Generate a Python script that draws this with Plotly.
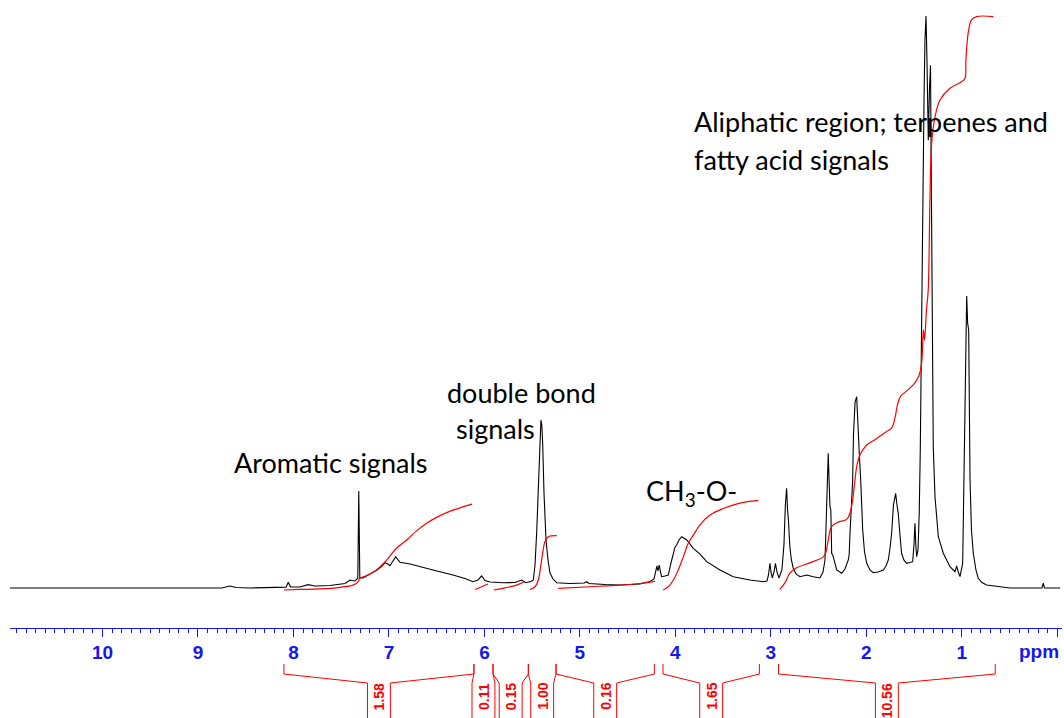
import plotly.graph_objects as go

# 1H NMR spectrum: chemical shift (ppm) and relative intensity (tallest line = 100)
shift_ppm = [
    10.97, 8.98, 8.75, 8.665, 8.60, 8.455, 8.14, 8.078, 8.054, 8.031, 7.932, 7.848,
    7.774, 7.618, 7.46, 7.408, 7.356, 7.326, 7.316, 7.305, 7.272, 7.198, 7.125, 7.073,
    7.041, 7.010, 6.989, 6.958, 6.929, 6.905, 6.884, 6.779, 6.675, 6.518, 6.329, 6.204,
    6.120, 6.067, 6.029, 5.994, 5.942, 5.805, 5.680, 5.610, 5.565, 5.513, 5.488, 5.470,
    5.453, 5.436, 5.418, 5.408, 5.399, 5.390, 5.376, 5.355, 5.334, 5.313, 5.282, 5.243,
    5.104, 4.957, 4.929, 4.905, 4.737, 4.580, 4.371, 4.266, 4.224, 4.203, 4.193, 4.182,
    4.169, 4.156, 4.144, 4.109, 4.074, 4.046, 4.022, 4.004, 3.986, 3.962, 3.934, 3.910,
    3.881, 3.812, 3.742, 3.672, 3.533, 3.394, 3.219, 3.080, 3.041, 3.025, 3.009, 2.999,
    2.985, 2.967, 2.952, 2.936, 2.915, 2.884, 2.863, 2.848, 2.835, 2.825, 2.816, 2.801,
    2.785, 2.766, 2.737, 2.695, 2.625, 2.556, 2.486, 2.454, 2.433, 2.423, 2.416, 2.407,
    2.399, 2.391, 2.381, 2.372, 2.363, 2.349, 2.339, 2.310, 2.258, 2.224, 2.189, 2.180,
    2.171, 2.156, 2.143, 2.135, 2.126, 2.118, 2.101, 2.093, 2.085, 2.074, 2.059, 2.038,
    2.019, 1.996, 1.962, 1.927, 1.878, 1.822, 1.794, 1.770, 1.752, 1.735, 1.716, 1.693,
    1.679, 1.666, 1.648, 1.631, 1.607, 1.578, 1.543, 1.515, 1.501, 1.491, 1.482, 1.473,
    1.459, 1.446, 1.435, 1.428, 1.417, 1.407, 1.396, 1.386, 1.375, 1.365, 1.351, 1.339,
    1.328, 1.318, 1.309, 1.299, 1.281, 1.246, 1.194, 1.124, 1.072, 1.054, 1.037, 1.019,
    0.991, 0.978, 0.964, 0.949, 0.939, 0.928, 0.914, 0.899, 0.880, 0.852, 0.828, 0.789,
    0.740, 0.601, 0.496, 0.161, 0.147, 0.134, -0.03,
]
intensity = [
    0, 0, 0, 0.35, 0.1, 0, 0.1, 0.15, 1.0, 0.2, 0.17, 0.58,
    0.35, 0.44, 0.79, 1.4, 1.22, 1.75, 16.96, 1.75, 1.75, 2.45, 3.15, 3.85,
    4.42, 4.2, 3.9, 4.72, 5.47, 4.9, 4.49, 4.2, 3.72, 3.06, 2.27, 1.66,
    1.10, 1.4, 2.1, 1.31, 1.05, 0.93, 0.96, 1.4, 0.93, 1.14, 1.4, 4.02,
    9.6, 18.36, 25.87, 29.37, 28.5, 25.35, 16.6, 8.39, 4.9, 2.62, 1.57, 0.93,
    0.79, 0.87, 1.1, 0.79, 0.61, 0.52, 0.7, 1.14, 1.57, 2.8, 3.85, 2.97,
    4.02, 2.8, 1.98, 2.1, 2.27, 4.37, 6.07, 7.17, 7.52, 8.39, 8.97, 8.74,
    8.39, 6.94, 5.94, 4.6, 3.15, 1.98, 1.4, 1.1, 1.22, 2.27, 4.32, 2.8,
    1.75, 2.8, 4.32, 2.8, 1.75, 3.15, 7.52, 14.51, 17.43, 13.64, 11.89, 7.22,
    4.9, 3.5, 2.45, 1.98, 2.27, 1.98, 1.75, 2.8, 4.9, 10.14, 15.39, 20.63,
    23.55, 19.23, 14.21, 13.64, 6.07, 5.6, 4.9, 3.15, 2.57, 3.32, 4.9, 5.77,
    9.56, 14.51, 18.88, 26.75, 29.37, 32.5, 33.45, 31.12, 27.62, 23.55, 18.88, 10.14,
    6.29, 4.32, 3.15, 2.67, 2.8, 3.15, 3.85, 4.9, 7.0, 9.56, 14.51, 16.55,
    14.51, 13.06, 9.27, 6.07, 4.9, 4.32, 4.46, 4.6, 7.52, 11.31, 7.52, 5.47,
    6.64, 13.06, 24.13, 36.37, 50.35, 67.83, 85.31, 95.8, 100.0, 92.3, 78.3, 87.1,
    91.4, 67.8, 42.2, 24.7, 15.96, 8.97, 6.07, 3.72, 2.85, 3.85, 2.8, 1.98,
    4.32, 18.88, 42.2, 51.05, 46.3, 45.1, 18.88, 10.14, 6.07, 3.15, 1.70, 0.96,
    0.52, 0.17, 0, 0, 0.87, 0, 0,
]

# Integrated regions (ppm limits) and their integral values
integral_from = [8.10, 6.11, 5.91, 5.54, 5.25, 4.13, 2.92]
integral_to = [6.11, 5.91, 5.54, 5.25, 4.22, 3.12, 0.65]
integral_value = [1.58, 0.11, 0.15, 1.00, 0.16, 1.65, 10.56]

# Running integral curves for each region
int1_ppm = [8.099, 7.932, 7.722, 7.513, 7.377, 7.324, 7.303, 7.251, 7.146, 7.024,
            6.926, 6.814, 6.717, 6.605, 6.465, 6.329, 6.225, 6.130]
int1_val = [0, 0.01, 0.02, 0.05, 0.09, 0.15, 0.22, 0.25, 0.35, 0.55,
            0.76, 0.92, 1.08, 1.23, 1.37, 1.47, 1.53, 1.58]
int2_ppm = [6.099, 6.029, 5.963]
int2_val = [0.01, 0.06, 0.11]
int3_ppm = [5.900, 5.785, 5.680, 5.610, 5.586]
int3_val = [0, 0.04, 0.08, 0.13, 0.15]
int4_ppm = [5.523, 5.470, 5.436, 5.411, 5.390, 5.366, 5.331, 5.243]
int4_val = [0.01, 0.06, 0.18, 0.43, 0.68, 0.89, 0.98, 1.00]
int5_ppm = [5.226, 4.894, 4.580, 4.371, 4.214]
int5_val = [0.03, 0.06, 0.09, 0.12, 0.16]
int6_ppm = [4.127, 4.074, 4.022, 3.970, 3.917, 3.865, 3.812, 3.742, 3.638, 3.498,
            3.323, 3.132]
int6_val = [0, 0.06, 0.18, 0.37, 0.61, 0.86, 1.01, 1.20, 1.38, 1.50, 1.60, 1.65]
int7_ppm = [2.906, 2.853, 2.801, 2.730, 2.590, 2.451, 2.423, 2.399, 2.363, 2.297,
            2.206, 2.171, 2.143, 2.119, 2.098, 2.066, 1.996, 1.899, 1.787, 1.735,
            1.700, 1.674, 1.640, 1.567, 1.493, 1.451, 1.421, 1.402, 1.391, 1.370,
            1.352, 1.334, 1.316, 1.281, 1.229, 1.124, 1.002, 0.967, 0.957, 0.933,
            0.898, 0.846, 0.670]
int7_val = [0.01, 0.13, 0.31, 0.41, 0.50, 0.61, 0.70, 0.92, 1.17, 1.25,
            1.30, 1.42, 1.66, 2.03, 2.30, 2.49, 2.67, 2.78, 2.92, 2.98,
            3.17, 3.41, 3.57, 3.68, 3.81, 3.94, 4.18, 4.79, 4.60, 5.16,
            5.52, 7.18, 8.23, 8.71, 9.02, 9.24, 9.36, 9.42, 9.76, 10.26,
            10.50, 10.56, 10.56]

integral_curves = [
    (int1_ppm, int1_val), (int2_ppm, int2_val), (int3_ppm, int3_val),
    (int4_ppm, int4_val), (int5_ppm, int5_val), (int6_ppm, int6_val),
    (int7_ppm, int7_val),
]

# Axis labels
tick_ppm = [10, 9, 8, 7, 6, 5, 4, 3, 2, 1, 0]

RED = "#ff0000"
BLUE = "#1616ee"
W, H = 1064, 718

fig = go.Figure()

fig.add_trace(go.Scatter(
    x=shift_ppm, y=intensity, mode="lines",
    line=dict(color="black", width=1.1), hoverinfo="skip", showlegend=False,
    xaxis="x", yaxis="y",
))

for px, pv in integral_curves:
    fig.add_trace(go.Scatter(
        x=px, y=pv, mode="lines", line=dict(color=RED, width=1.2, shape="spline"),
        hoverinfo="skip", showlegend=False, xaxis="x", yaxis="y2",
    ))


def py(pixel_y):
    """Convert a vertical pixel offset from the top into paper units."""
    return (H - pixel_y) / H


# Integral brackets under the axis
gap = 0.12
shapes = []
annotations = []
for a, b, v in zip(integral_from, integral_to, integral_value):
    mid = (a + b) / 2
    segs = [
        ([a, a, mid + gap, mid + gap], [664, 674, 683, 718]),
        ([b, b, mid - gap, mid - gap], [664, 674, 683, 718]),
    ]
    for xs, ys in segs:
        path = "M {} {}".format(xs[0], py(ys[0]))
        for xx, yy in zip(xs[1:], ys[1:]):
            path += " L {} {}".format(xx, py(yy))
        shapes.append(dict(type="path", path=path, xref="x", yref="paper",
                           line=dict(color=RED, width=1)))
    annotations.append(dict(
        x=mid, y=py(681), xref="x", yref="paper", text="<b>{:.2f}</b>".format(v),
        textangle=-90, showarrow=False, xanchor="center", yanchor="top",
        font=dict(family="Liberation Sans", size=14, color=RED),
    ))

# Region labels
label_font = dict(family="Lato", size=27, color="black")
region_labels = [
    ("Aromatic signals", 232, 462),
    ("double bond", 445, 393),
    ("signals", 454, 428),
    ("CH<sub>3</sub>-O-", 644, 492),
    ("Aliphatic region; terpenes and", 692, 122),
    ("fatty acid signals", 692, 160),
]
for txt, lx, ly in region_labels:
    annotations.append(dict(
        x=lx / W, y=py(ly), xref="paper", yref="paper", text=txt, showarrow=False,
        xanchor="left", yanchor="middle", font=label_font,
    ))

annotations.append(dict(
    x=1039 / W, y=py(651), xref="paper", yref="paper", text="<b>ppm</b>",
    showarrow=False, xanchor="center", yanchor="middle",
    font=dict(family="Liberation Sans", size=19, color=BLUE),
))

x_left_px, x_right_px = 10, 1062
ppm_per_px = 1 / 95.48
ppm_at_0 = 11.0735

fig.update_layout(
    width=W, height=H, margin=dict(l=0, r=0, t=0, b=0), autosize=False,
    paper_bgcolor="white", plot_bgcolor="white",
    xaxis=dict(
        domain=[x_left_px / W, x_right_px / W],
        range=[ppm_at_0 - x_left_px * ppm_per_px, ppm_at_0 - x_right_px * ppm_per_px],
        anchor="y", showgrid=False, zeroline=False, showline=True,
        linecolor=BLUE, linewidth=1, ticks="outside", ticklen=8, tickwidth=1,
        tickcolor=BLUE, tickmode="array", tickvals=tick_ppm,
        ticktext=["<b>{}</b>".format(t) if t > 0 else " " for t in tick_ppm],
        tickfont=dict(family="Liberation Sans", size=19, color=BLUE),
        minor=dict(tickmode="linear", tick0=0, dtick=0.1, ticklen=4,
                   tickcolor=BLUE, ticks="outside", showgrid=False),
    ),
    yaxis=dict(
        domain=[py(627.5), 1], range=[-6.906, 102.80], visible=False,
        showgrid=False, zeroline=False,
    ),
    yaxis2=dict(
        overlaying="y", range=[-0.6906, 10.865], visible=False,
        showgrid=False, zeroline=False,
    ),
    shapes=shapes,
    annotations=annotations,
)

fig.write_html("out.html")
